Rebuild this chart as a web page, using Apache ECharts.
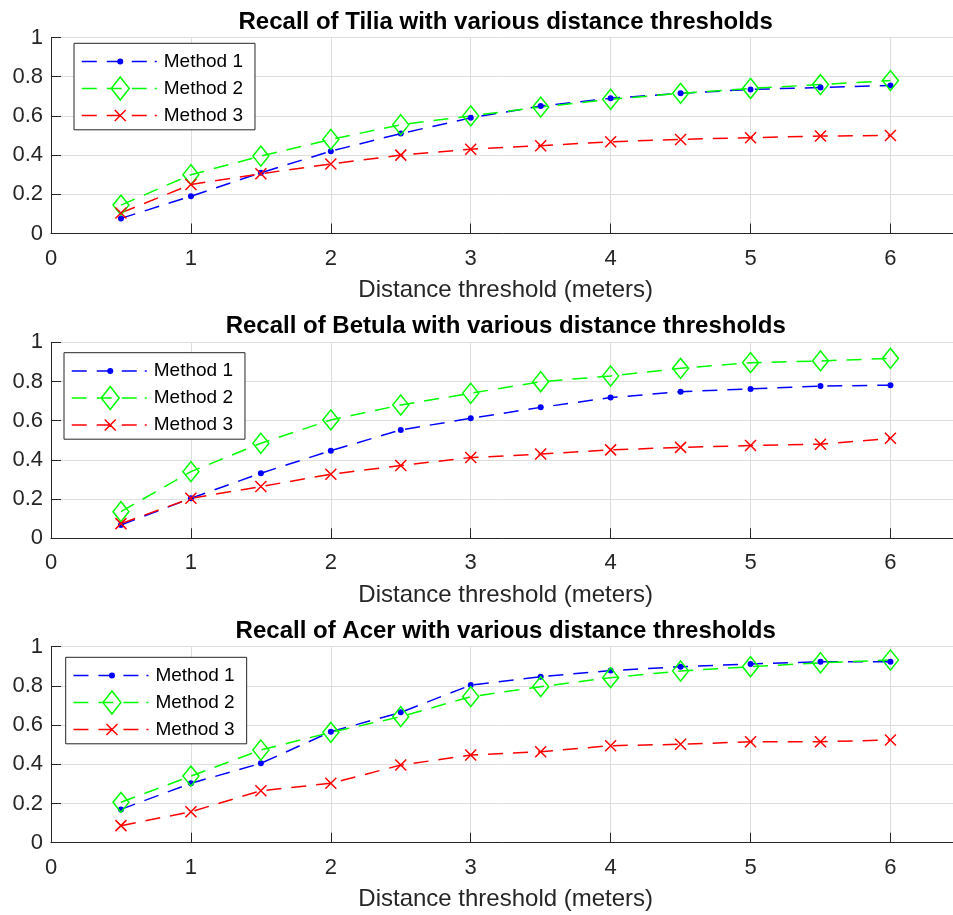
<!DOCTYPE html>
<html>
<head>
<meta charset="utf-8">
<title>Recall with various distance thresholds</title>
<style>
  html, body { margin: 0; padding: 0; background: #ffffff; }
  #chart { width: 953px; height: 915px; }
</style>
<script src="https://cdn.jsdelivr.net/npm/echarts@6/dist/echarts.min.js"></script>
</head>
<body>
<div id="chart"></div>
<script>
// Distance thresholds (meters) shared by every curve
const distances = [0.5, 1, 1.5, 2, 2.5, 3, 3.5, 4, 4.5, 5, 5.5, 6];

const speciesNames = ['Tilia', 'Betula', 'Acer'];
const methodNames = ['Method 1', 'Method 2', 'Method 3'];

// Recall values per species and method
const tiliaMethod1 = [0.077, 0.19, 0.31, 0.42, 0.51, 0.59, 0.65, 0.69, 0.715, 0.735, 0.745, 0.755];
const tiliaMethod2 = [0.145, 0.30, 0.395, 0.48, 0.555, 0.60, 0.645, 0.685, 0.715, 0.74, 0.76, 0.78];
const tiliaMethod3 = [0.105, 0.25, 0.305, 0.355, 0.40, 0.43, 0.448, 0.468, 0.48, 0.489, 0.497, 0.50];

const betulaMethod1 = [0.068, 0.204, 0.332, 0.447, 0.553, 0.612, 0.668, 0.718, 0.748, 0.762, 0.777, 0.781];
const betulaMethod2 = [0.136, 0.34, 0.485, 0.604, 0.68, 0.74, 0.799, 0.828, 0.867, 0.896, 0.905, 0.918];
const betulaMethod3 = [0.075, 0.204, 0.264, 0.327, 0.371, 0.412, 0.43, 0.451, 0.464, 0.473, 0.48, 0.51];

const acerMethod1 = [0.17, 0.303, 0.405, 0.566, 0.665, 0.804, 0.847, 0.878, 0.898, 0.912, 0.923, 0.923];
const acerMethod2 = [0.206, 0.34, 0.473, 0.563, 0.643, 0.745, 0.796, 0.842, 0.876, 0.898, 0.918, 0.932];
const acerMethod3 = [0.087, 0.158, 0.265, 0.303, 0.396, 0.447, 0.464, 0.495, 0.502, 0.515, 0.515, 0.524];

const recallBySpecies = [
  [tiliaMethod1, tiliaMethod2, tiliaMethod3],
  [betulaMethod1, betulaMethod2, betulaMethod3],
  [acerMethod1, acerMethod2, acerMethod3]
];

// Axis ranges and ticks
const xMin = 0, xMax = 6.5, xStep = 1;
const yMin = 0, yMax = 1, yStep = 0.2;
const xAxisTitle = 'Distance threshold (meters)';

// ---- styling ----
const FONT = '"Liberation Sans", Arial, Helvetica, sans-serif';
const AXIS_COLOR = '#262626';
const GRID_COLOR = '#dedede';
const LINE_WIDTH = 1.5;
const DASH = [15, 10];

const methodStyles = [
  { color: '#0000ff', symbol: 'circle', size: 6, filled: true },
  { color: '#00ff00', symbol: 'diamond', size: [16, 20], filled: false },
  { color: '#ff0000', symbol: 'path://M0,0L10,10M10,0L0,10', size: 11, filled: false }
];

// Legend icons: dashed stroke with the marker in the middle (77 x 23 box)
const ICON_W = 77, ICON_H = 23, MID = 11.5, CX = 38.5;
function legendIcon(kind) {
  let d = 'M0,0M' + ICON_W + ',' + ICON_H;
  [[0, 15], [25, 40], [50, 65], [73, 75]].forEach(function (s) {
    d += 'M' + s[0] + ',' + MID + 'L' + s[1] + ',' + MID;
  });
  if (kind === 0) {
    const r = 2.3;
    d += 'M' + (CX - r) + ',' + MID + 'A' + r + ',' + r + ' 0 1,0 ' + (CX + r) + ',' + MID +
         'A' + r + ',' + r + ' 0 1,0 ' + (CX - r) + ',' + MID + 'Z';
  } else if (kind === 1) {
    d += 'M' + CX + ',0L' + (CX + 9) + ',' + MID + 'L' + CX + ',' + ICON_H + 'L' + (CX - 9) + ',' + MID + 'Z';
  } else {
    d += 'M' + (CX - 5.5) + ',' + (MID - 5.5) + 'L' + (CX + 5.5) + ',' + (MID + 5.5) +
         'M' + (CX + 5.5) + ',' + (MID - 5.5) + 'L' + (CX - 5.5) + ',' + (MID + 5.5);
  }
  return 'path://' + d;
}

// Panel placement
const PLOT_LEFT = 51;
const PLOT_RIGHT = -7.4;
const PLOT_HEIGHT = 196;
const panelLayout = [
  { top: 37.5, titleTop: 10, legendLeft: 74, legendTop: 43.3 },
  { top: 342.3, titleTop: 314.5, legendLeft: 64, legendTop: 352.7 },
  { top: 646.7, titleTop: 619, legendLeft: 65.7, legendTop: 657.3 }
];
const PLOT_CENTER_X = PLOT_LEFT + (953 - PLOT_LEFT - PLOT_RIGHT) / 2;

const option = {
  animation: false,
  backgroundColor: '#ffffff',
  textStyle: { fontFamily: FONT },
  title: [],
  legend: [],
  grid: [],
  xAxis: [],
  yAxis: [],
  series: []
};

panelLayout.forEach(function (p, i) {
  option.title.push({
    text: 'Recall of ' + speciesNames[i] + ' with various distance thresholds',
    left: PLOT_CENTER_X,
    top: p.titleTop,
    textAlign: 'center',
    padding: 0,
    textStyle: { fontFamily: FONT, fontSize: 24, fontWeight: 'bold', color: '#000000' }
  });

  option.grid.push({
    left: PLOT_LEFT, right: PLOT_RIGHT, top: p.top, height: PLOT_HEIGHT,
    containLabel: false, outerBoundsMode: 'none'
  });

  option.xAxis.push({
    type: 'value', gridIndex: i,
    min: xMin, max: xMax, interval: xStep,
    name: xAxisTitle, nameLocation: 'middle', nameGap: 45,
    nameTextStyle: { fontFamily: FONT, fontSize: 24, color: AXIS_COLOR },
    axisLine: { show: true, onZero: false, lineStyle: { color: AXIS_COLOR, width: 1 } },
    axisTick: { show: true, inside: true, length: 10, lineStyle: { color: AXIS_COLOR, width: 1 } },
    axisLabel: { show: true, margin: 14, showMaxLabel: false, fontFamily: FONT, fontSize: 22, color: AXIS_COLOR },
    splitLine: { show: true, lineStyle: { color: GRID_COLOR, width: 1 } }
  });

  option.yAxis.push({
    type: 'value', gridIndex: i,
    min: yMin, max: yMax, interval: yStep,
    axisLine: { show: true, onZero: false, lineStyle: { color: AXIS_COLOR, width: 1 } },
    axisTick: { show: true, inside: true, length: 10, lineStyle: { color: AXIS_COLOR, width: 1 } },
    axisLabel: { show: true, margin: 8, fontFamily: FONT, fontSize: 22, color: AXIS_COLOR },
    splitLine: { show: true, lineStyle: { color: GRID_COLOR, width: 1 } }
  });

  option.legend.push({
    orient: 'vertical',
    left: p.legendLeft, top: p.legendTop,
    padding: [6, 12, 2, 7],
    itemWidth: ICON_W, itemHeight: ICON_H, itemGap: 2.5,
    symbolKeepAspect: true,
    selectedMode: false,
    backgroundColor: '#ffffff',
    borderColor: AXIS_COLOR, borderWidth: 1, borderRadius: 0,
    textStyle: { fontFamily: FONT, fontSize: 19, color: '#000000' },
    data: methodNames.map(function (name, m) {
      const st = methodStyles[m];
      return {
        name: name,
        icon: legendIcon(m),
        itemStyle: {
          color: st.filled ? st.color : 'rgba(0,0,0,0)',
          borderColor: st.color, borderWidth: LINE_WIDTH
        }
      };
    })
  });

  recallBySpecies[i].forEach(function (values, m) {
    const st = methodStyles[m];
    option.series.push({
      type: 'line',
      name: methodNames[m],
      xAxisIndex: i, yAxisIndex: i,
      data: distances.map(function (d, k) { return [d, values[k]]; }),
      symbol: st.symbol,
      symbolSize: st.size,
      showSymbol: true,
      silent: true,
      lineStyle: { color: st.color, width: LINE_WIDTH, type: DASH },
      itemStyle: {
        color: st.filled ? st.color : 'rgba(0,0,0,0)',
        borderColor: st.color,
        borderWidth: st.filled ? 0 : LINE_WIDTH
      },
      emphasis: { disabled: true }
    });
  });
});

const chart = echarts.init(document.getElementById('chart'), null, { renderer: 'canvas' });
chart.setOption(option);
</script>
</body>
</html>
